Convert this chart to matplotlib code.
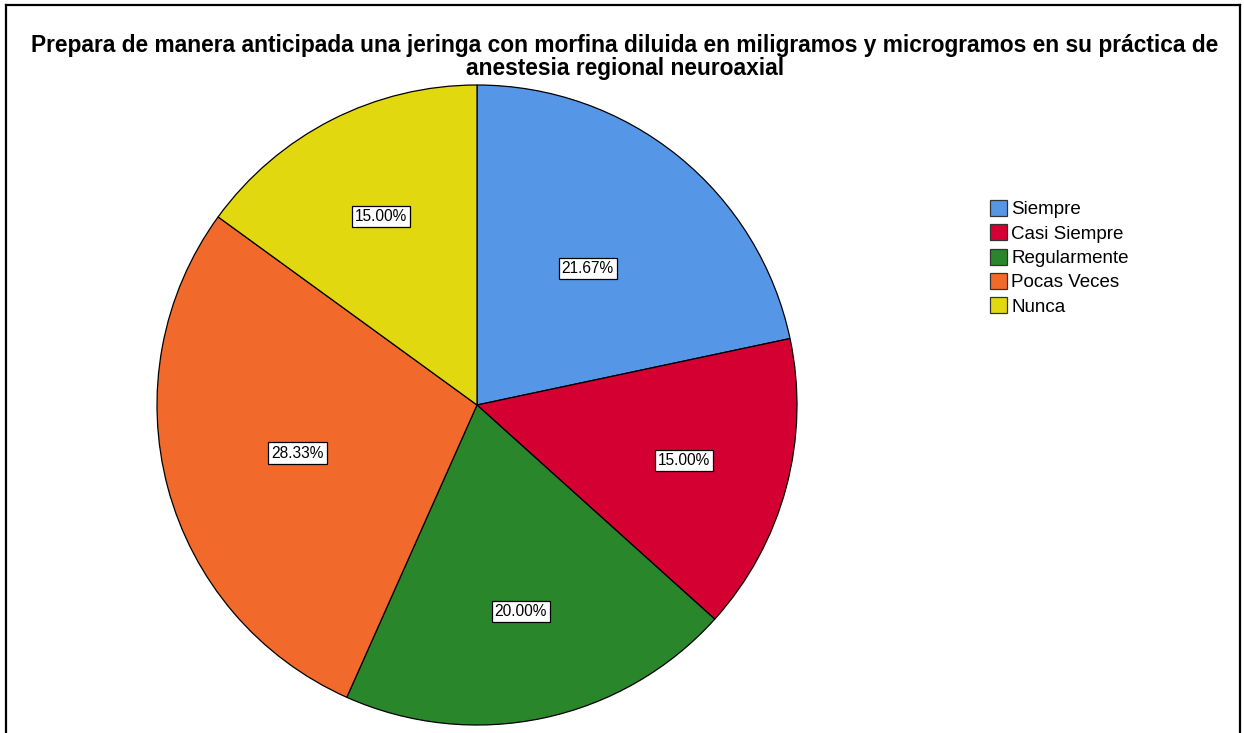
import matplotlib
matplotlib.use("Agg")
import matplotlib.pyplot as plt
from matplotlib.lines import Line2D
import numpy as np

plt.rcParams['font.family'] = ['Liberation Sans', 'DejaVu Sans']

title = ("Prepara de manera anticipada una jeringa con morfina diluida en miligramos y microgramos en su práctica de\n"
         "anestesia regional neuroaxial")
categories = ["Siempre", "Casi Siempre", "Regularmente", "Pocas Veces", "Nunca"]
percentages = [21.67, 15.00, 20.00, 28.33, 15.00]
colors = ["#5597E6", "#D50032", "#2A862A", "#F26A2B", "#E2D810"]
# radial position of each percentage label, as a fraction of the radius
label_dist = [0.55, 0.67, 0.66, 0.58, 0.66]

W, H = 1244, 733
fig = plt.figure(figsize=(W / 100, H / 100), dpi=100)

# pie centred at (477, 405) px with a 320 px radius
cx, cy, r = 477, 405, 320
ax = fig.add_axes([(cx - r) / W, (H - cy - r) / H, 2 * r / W, 2 * r / H])
wedges, _ = ax.pie(percentages, colors=colors, startangle=90, counterclock=False,
                   radius=1.0, wedgeprops=dict(edgecolor="black", linewidth=0.9))
ax.set_xlim(-1, 1)
ax.set_ylim(-1, 1)
ax.set_aspect("equal")
ax.axis("off")

for w, p, d in zip(wedges, percentages, label_dist):
    ang = np.deg2rad((w.theta1 + w.theta2) / 2)
    ax.text(d * np.cos(ang), d * np.sin(ang), f"{p:.2f}%", ha="center", va="center",
            fontsize=11.2, color="black",
            bbox=dict(boxstyle="square,pad=0.2", facecolor="white", edgecolor="black", linewidth=0.9))

fig.text(625 / W, 1 - 57 / H, title, ha="center", va="center", fontsize=16.4,
         fontweight="bold", linespacing=0.97)

handles = [plt.Rectangle((0, 0), 1, 1, facecolor=c, edgecolor="#333333", linewidth=0.9) for c in colors]
fig.legend(handles, categories, loc="upper left", bbox_to_anchor=(990 / W, 1 - 200 / H),
           frameon=False, fontsize=13.5, handlelength=0.92, handleheight=0.92,
           handletextpad=0.22, labelspacing=0.32, borderpad=0, borderaxespad=0)

# outer frame (left, top, right edges)
lw = 1.6
fig.add_artist(Line2D([5.5 / W, 5.5 / W], [0, 1 - 5 / H], transform=fig.transFigure, color="black", lw=lw))
fig.add_artist(Line2D([5.5 / W, 1239.5 / W], [1 - 5 / H, 1 - 5 / H], transform=fig.transFigure, color="black", lw=lw))
fig.add_artist(Line2D([1239.5 / W, 1239.5 / W], [0, 1 - 5 / H], transform=fig.transFigure, color="black", lw=lw))

fig.savefig("out.png", dpi=100, facecolor="white")
